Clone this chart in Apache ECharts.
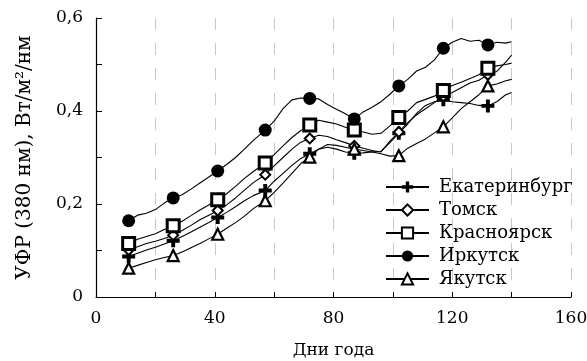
<!DOCTYPE html>
<html>
<head>
<meta charset="utf-8">
<script src="https://cdn.jsdelivr.net/npm/echarts@6/dist/echarts.min.js"></script>
<style>
  html, body { margin: 0; padding: 0; background: #fff; }
  #main { width: 587px; height: 361px; }
</style>
</head>
<body>
<div id="main"></div>
<script>
// дни года, для которых снимались значения
var days = [11, 14, 17, 20, 23, 26, 29, 32, 35, 38, 41, 44, 47, 50, 53, 57, 60, 63, 66, 69,
            72, 75, 78, 81, 84, 87, 90, 93, 96, 99, 102, 105, 108, 111, 114, 117, 120, 123, 126, 129,
            132, 135, 138, 140];
// дни с маркерами
var markerDays = [11, 26, 41, 57, 72, 87, 102, 117, 132];

var ekaterinburg = [0.087, 0.094, 0.101, 0.107, 0.114, 0.121, 0.130, 0.140, 0.150, 0.160,
                    0.171, 0.182, 0.194, 0.207, 0.218, 0.229, 0.249, 0.266, 0.283, 0.298,
                    0.308, 0.318, 0.322, 0.318, 0.312, 0.309, 0.310, 0.312, 0.313, 0.332,
                    0.352, 0.372, 0.395, 0.412, 0.420, 0.424, 0.420, 0.418, 0.416, 0.412,
                    0.411, 0.420, 0.435, 0.440];
var tomsk = [0.101, 0.108, 0.115, 0.120, 0.126, 0.133, 0.143, 0.154, 0.166, 0.176,
             0.186, 0.198, 0.213, 0.230, 0.246, 0.263, 0.282, 0.300, 0.318, 0.333,
             0.341, 0.348, 0.345, 0.338, 0.332, 0.325, 0.320, 0.315, 0.312, 0.335,
             0.355, 0.375, 0.392, 0.405, 0.418, 0.432, 0.440, 0.450, 0.460, 0.466,
             0.478, 0.485, 0.505, 0.520];
var krasnoyarsk = [0.115, 0.124, 0.130, 0.136, 0.145, 0.153, 0.163, 0.175, 0.187, 0.198,
                   0.209, 0.222, 0.238, 0.255, 0.270, 0.288, 0.306, 0.325, 0.343, 0.358,
                   0.370, 0.380, 0.376, 0.372, 0.365, 0.359, 0.355, 0.350, 0.352, 0.368,
                   0.386, 0.400, 0.418, 0.425, 0.432, 0.444, 0.455, 0.462, 0.470, 0.478,
                   0.492, 0.497, 0.500, 0.503];
var irkutsk = [0.164, 0.176, 0.180, 0.188, 0.202, 0.213, 0.220, 0.232, 0.245, 0.258,
               0.271, 0.285, 0.300, 0.318, 0.337, 0.359, 0.378, 0.405, 0.424, 0.428,
               0.427, 0.426, 0.414, 0.404, 0.394, 0.383, 0.398, 0.408, 0.420, 0.436,
               0.454, 0.468, 0.486, 0.494, 0.510, 0.535, 0.548, 0.556, 0.550, 0.552,
               0.542, 0.548, 0.546, 0.549];
var yakutsk = [0.062, 0.068, 0.074, 0.080, 0.085, 0.089, 0.097, 0.106, 0.115, 0.125,
               0.135, 0.148, 0.160, 0.174, 0.190, 0.207, 0.225, 0.245, 0.266, 0.287,
               0.301, 0.318, 0.328, 0.326, 0.322, 0.318, 0.315, 0.312, 0.308, 0.303,
               0.304, 0.320, 0.330, 0.340, 0.353, 0.366, 0.385, 0.405, 0.420, 0.435,
               0.454, 0.458, 0.465, 0.468];

var xTicks = [0, 40, 80, 120, 160];

var serif = '"DejaVu Serif", "Liberation Serif", serif';
var plusPath = 'path://M3.5,0h3v3.5h3.5v3h-3.5v3.5h-3v-3.5h-3.5v-3h3.5z';

function pairs(vals) {
    var out = [];
    for (var i = 0; i < days.length; i++) out.push([days[i], vals[i]]);
    return out;
}

function makeSeries(name, vals, symbol, size, fill, bw) {
    return {
        name: name,
        type: 'line',
        data: pairs(vals),
        symbol: symbol,
        symbolSize: function (v) {
            return markerDays.indexOf(v[0]) >= 0 ? size : 0;
        },
        showSymbol: true,
        lineStyle: { color: '#000', width: 1.1 },
        itemStyle: { color: fill, borderColor: '#000', borderWidth: bw },
        emphasis: { disabled: true }
    };
}

var myChart = echarts.init(document.getElementById('main'));

var option = {
    animation: false,
    grid: { left: 96, right: 16, top: 18, bottom: 64, outerBoundsMode: 'none' },
    legend: {
        orient: 'vertical',
        left: 385,
        top: 178,
        padding: 0,
        itemWidth: 43,
        itemHeight: 14,
        itemGap: 5,
        textStyle: { fontFamily: serif, fontSize: 18, lineHeight: 18, color: '#000', padding: [0, 0, 0, 5] },
        data: ['Екатеринбург', 'Томск', 'Красноярск', 'Иркутск', 'Якутск']
    },
    xAxis: {
        type: 'value',
        min: 0,
        max: 160,
        interval: 20,
        name: 'Дни года',
        nameLocation: 'middle',
        nameGap: 45,
        nameTextStyle: { fontFamily: serif, fontSize: 17, color: '#000' },
        axisLine: { lineStyle: { color: '#000', width: 1.2 } },
        axisTick: { inside: true, length: 5, lineStyle: { color: '#000' } },
        axisLabel: {
            fontFamily: serif, fontSize: 17, color: '#000', margin: 13,
            formatter: function (v) { return xTicks.indexOf(v) >= 0 ? String(v) : ''; }
        },
        splitLine: { show: true, lineStyle: { color: '#c8c8c8', type: [12, 13], width: 1 } }
    },
    yAxis: {
        type: 'value',
        min: 0,
        max: 0.6,
        interval: 0.2,
        name: 'УФР (380 нм), Вт/м²/нм',
        nameLocation: 'middle',
        nameGap: 61,
        nameTextStyle: { fontFamily: serif, fontSize: 20, color: '#000' },
        axisLine: { show: true, lineStyle: { color: '#000', width: 1.2 } },
        axisTick: { inside: true, length: 6, lineStyle: { color: '#000' } },
        minorTick: { show: true, splitNumber: 2, length: 6, lineStyle: { color: '#000' } },
        axisLabel: {
            fontFamily: serif, fontSize: 17, color: '#000', margin: 13,
            formatter: function (v) { return v === 0 ? '0' : v.toFixed(1).replace('.', ','); }
        },
        splitLine: { show: false }
    },
    series: [
        makeSeries('Екатеринбург', ekaterinburg, plusPath, 13, '#000', 0),
        makeSeries('Томск', tomsk, 'diamond', 10, '#fff', 2),
        makeSeries('Красноярск', krasnoyarsk, 'rect', 12, '#fff', 3),
        makeSeries('Иркутск', irkutsk, 'circle', 13, '#000', 0),
        makeSeries('Якутск', yakutsk, 'triangle', 11, '#fff', 2.2)
    ]
};

myChart.setOption(option);
</script>
</body>
</html>
